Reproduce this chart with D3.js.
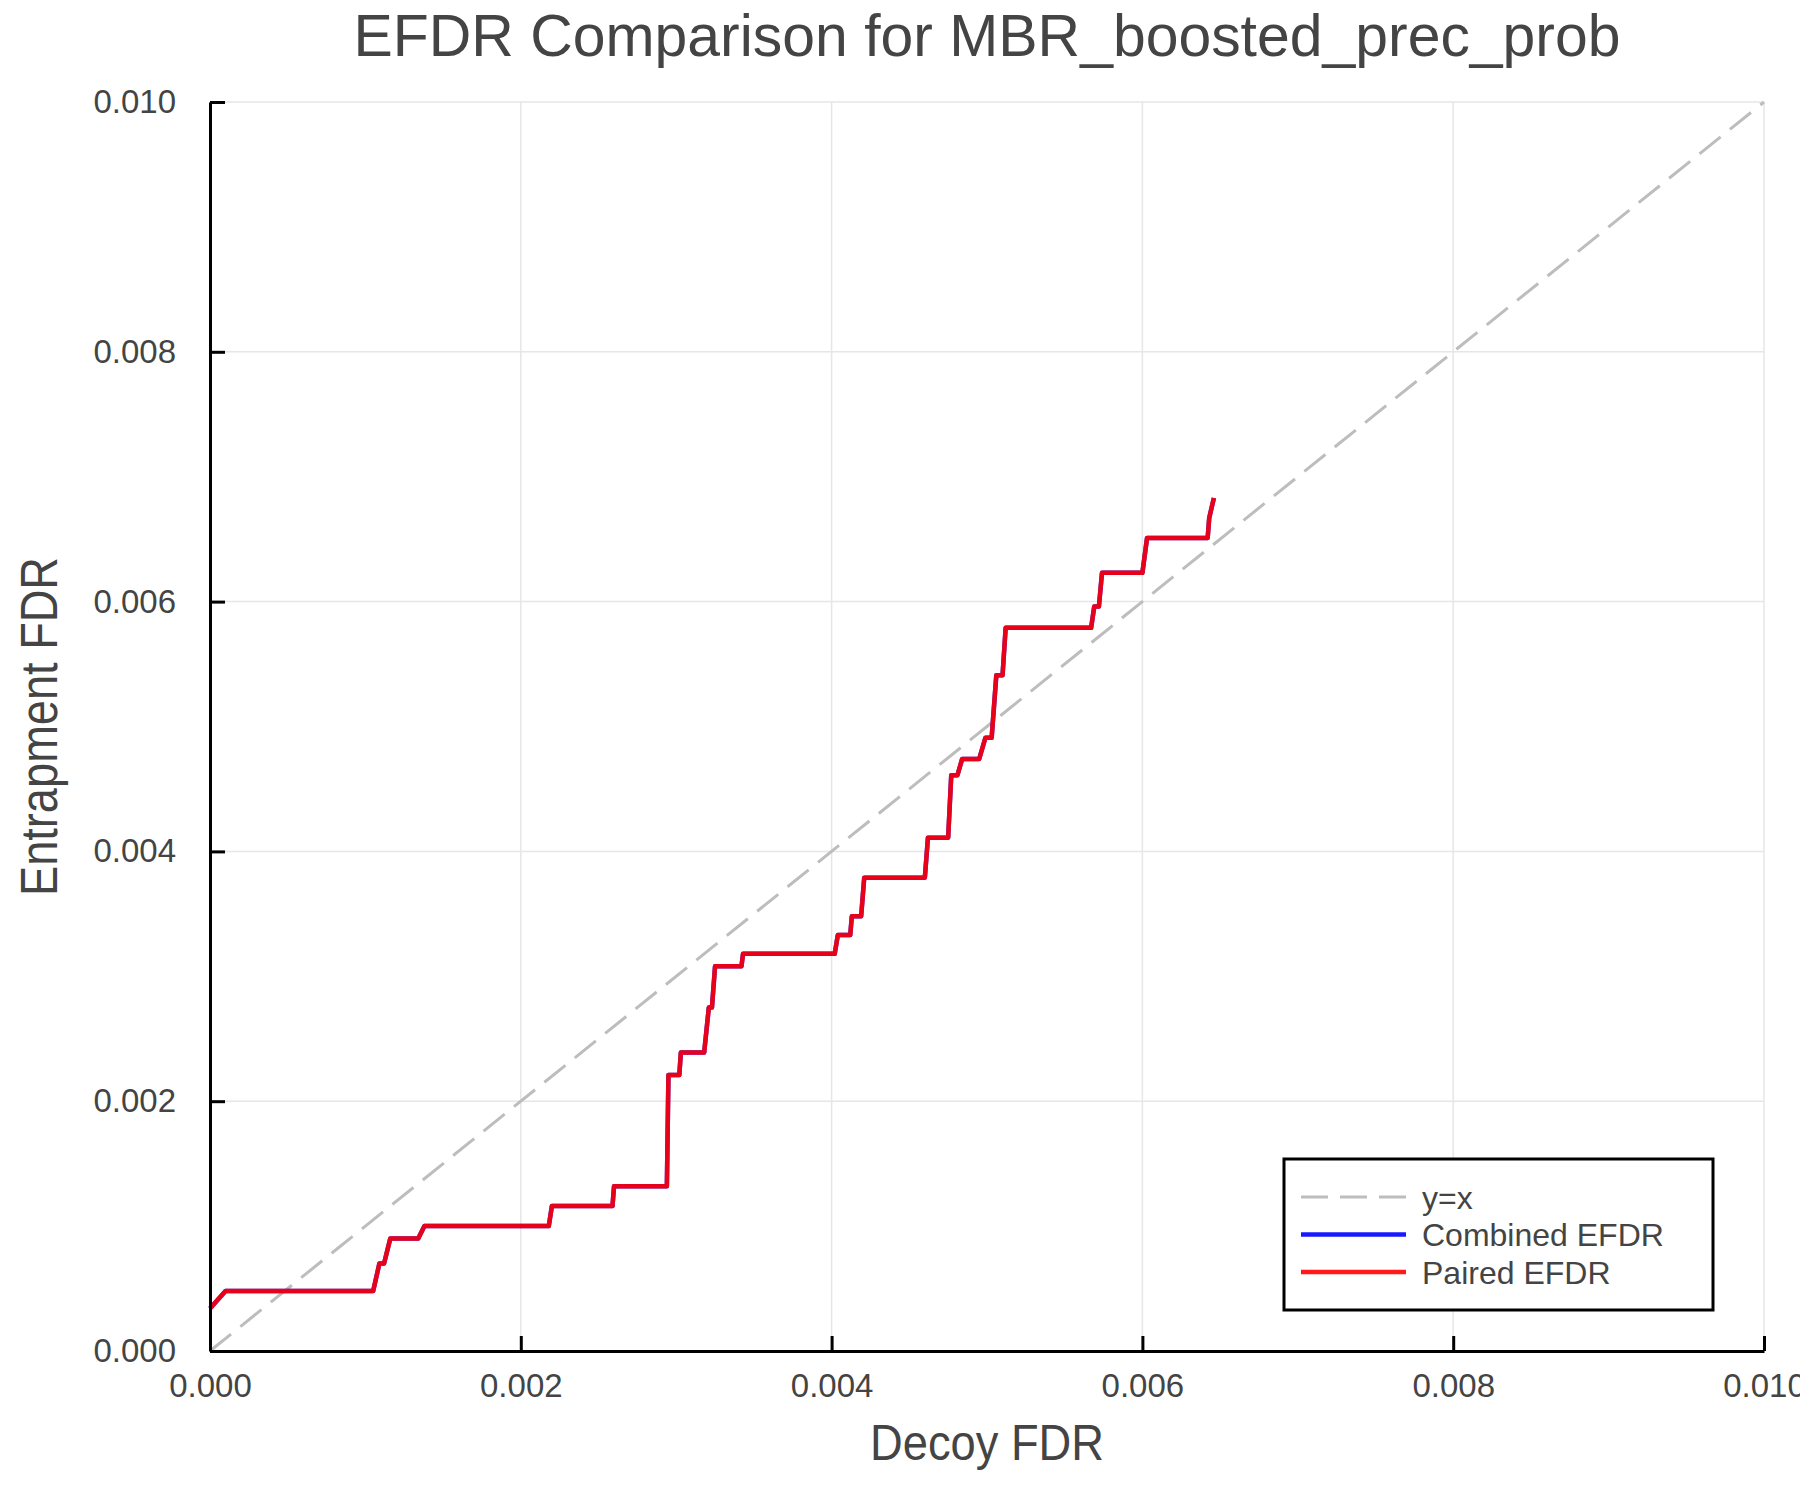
<!DOCTYPE html>
<html>
<head>
<meta charset="utf-8">
<script src="https://cdn.jsdelivr.net/npm/d3@7"></script>
<style>
  body { margin: 0; background: #fff; }
  text { font-family: "Liberation Sans", Arial, Helvetica, sans-serif; fill: #444; }
</style>
</head>
<body>
<div id="chart"></div>
<script>

// data
var decoyFdr = [0.00000, 0.00010, 0.00105, 0.00109, 0.00112, 0.00116, 0.00134, 0.00138, 0.00218, 0.00220,
                0.00259, 0.00260, 0.00294, 0.00295, 0.00302, 0.00303, 0.00318, 0.00321, 0.00323, 0.00325,
                0.00342, 0.00343, 0.00402, 0.00404, 0.00412, 0.00413, 0.00419, 0.00421, 0.00460, 0.00462,
                0.00475, 0.00477, 0.00481, 0.00484, 0.00495, 0.00499, 0.00503, 0.00506, 0.00510, 0.00512,
                0.00567, 0.00569, 0.00572, 0.00574, 0.00600, 0.00603, 0.00642, 0.00643, 0.00646];

var combinedEfdr = [0.00034, 0.00048, 0.00048, 0.00070, 0.00070, 0.00090, 0.00090, 0.00100, 0.00100, 0.00116,
                    0.00116, 0.00132, 0.00132, 0.00221, 0.00221, 0.00239, 0.00239, 0.00275, 0.00275, 0.00308,
                    0.00308, 0.00318, 0.00318, 0.00333, 0.00333, 0.00348, 0.00348, 0.00379, 0.00379, 0.00411,
                    0.00411, 0.00461, 0.00461, 0.00474, 0.00474, 0.00491, 0.00491, 0.00541, 0.00541, 0.00579,
                    0.00579, 0.00596, 0.00596, 0.00623, 0.00623, 0.00651, 0.00651, 0.00667, 0.00683];

var pairedEfdr = [0.00034, 0.00048, 0.00048, 0.00070, 0.00070, 0.00090, 0.00090, 0.00100, 0.00100, 0.00116,
                  0.00116, 0.00132, 0.00132, 0.00221, 0.00221, 0.00239, 0.00239, 0.00275, 0.00275, 0.00308,
                  0.00308, 0.00318, 0.00318, 0.00333, 0.00333, 0.00348, 0.00348, 0.00379, 0.00379, 0.00411,
                  0.00411, 0.00461, 0.00461, 0.00474, 0.00474, 0.00491, 0.00491, 0.00541, 0.00541, 0.00579,
                  0.00579, 0.00596, 0.00596, 0.00623, 0.00623, 0.00651, 0.00651, 0.00667, 0.00683];

var diagonal = [0, 0.010];
var xTicks = [0, 0.002, 0.004, 0.006, 0.008, 0.010];
var yTicks = [0, 0.002, 0.004, 0.006, 0.008, 0.010];
var legendLabels = ["y=x", "Combined EFDR", "Paired EFDR"];


var width  = 1800;
var height = 1500;
var plotLeft = 210, plotRight = 1764, plotTop = 102, plotBottom = 1351;

var svg = d3.select("#chart").append("svg")
    .attr("width", width)
    .attr("height", height);

var x = d3.scaleLinear().domain([0, 0.010]).range([plotLeft, plotRight]);
var y = d3.scaleLinear().domain([0, 0.010]).range([plotBottom, plotTop]);

// grid
svg.append("g").selectAll("line").data(xTicks).enter().append("line")
    .attr("x1", d => x(d)).attr("x2", d => x(d))
    .attr("y1", plotTop).attr("y2", plotBottom)
    .attr("stroke", "#e6e6e6").attr("stroke-width", 1.5);

svg.append("g").selectAll("line").data(yTicks).enter().append("line")
    .attr("x1", plotLeft).attr("x2", plotRight)
    .attr("y1", d => y(d)).attr("y2", d => y(d))
    .attr("stroke", "#e6e6e6").attr("stroke-width", 1.5);

// y = x
svg.append("line")
    .attr("x1", x(diagonal[0])).attr("y1", y(diagonal[0]))
    .attr("x2", x(diagonal[1])).attr("y2", y(diagonal[1]))
    .attr("stroke", "#bdbdbd")
    .attr("stroke-width", 3)
    .attr("stroke-dasharray", "27 12");

var line = d3.line()
    .x(d => x(d[0]))
    .y(d => y(d[1]));

svg.append("path")
    .datum(decoyFdr.map((d, i) => [d, combinedEfdr[i]]))
    .attr("d", line)
    .attr("fill", "none")
    .attr("stroke", "rgba(0,0,255,0.9)")
    .attr("stroke-width", 4.5)
    .attr("stroke-linejoin", "round");

svg.append("path")
    .datum(decoyFdr.map((d, i) => [d, pairedEfdr[i]]))
    .attr("d", line)
    .attr("fill", "none")
    .attr("stroke", "rgba(255,0,0,0.9)")
    .attr("stroke-width", 4.5)
    .attr("stroke-linejoin", "round");

// axes
var xAxis = svg.append("g")
    .attr("transform", "translate(0," + plotBottom + ")")
    .call(d3.axisBottom(x).tickValues(xTicks).tickFormat(d3.format(".3f"))
        .tickSizeInner(-15).tickSizeOuter(0).tickPadding(23));

var yAxis = svg.append("g")
    .attr("transform", "translate(" + plotLeft + ",0)")
    .call(d3.axisLeft(y).tickValues(yTicks).tickFormat(d3.format(".3f"))
        .tickSizeInner(-15).tickSizeOuter(0).tickPadding(34));

[xAxis, yAxis].forEach(function (g) {
    g.select(".domain").attr("stroke", "#000").attr("stroke-width", 3);
    g.selectAll(".tick line").attr("stroke", "#000").attr("stroke-width", 3);
    g.selectAll(".tick text")
        .attr("fill", "#444")
        .style("font-size", "33px")
        .style("font-family", "'Liberation Sans', Arial, sans-serif");
});

// title and labels
svg.append("text")
    .attr("x", (plotLeft + plotRight) / 2)
    .attr("y", 56)
    .attr("text-anchor", "middle")
    .attr("textLength", 1267)
    .attr("lengthAdjust", "spacingAndGlyphs")
    .style("font-size", "60px")
    .text("EFDR Comparison for MBR_boosted_prec_prob");

svg.append("text")
    .attr("x", (plotLeft + plotRight) / 2)
    .attr("y", 1460)
    .attr("text-anchor", "middle")
    .attr("textLength", 234)
    .attr("lengthAdjust", "spacingAndGlyphs")
    .style("font-size", "50px")
    .text("Decoy FDR");

svg.append("text")
    .attr("transform", "translate(57," + ((plotTop + plotBottom) / 2) + ") rotate(-90)")
    .attr("text-anchor", "middle")
    .attr("textLength", 339)
    .attr("lengthAdjust", "spacingAndGlyphs")
    .style("font-size", "51px")
    .text("Entrapment FDR");

// legend
var legend = svg.append("g");

legend.append("rect")
    .attr("x", 1284).attr("y", 1159)
    .attr("width", 429).attr("height", 151)
    .attr("fill", "#fff")
    .attr("stroke", "#000")
    .attr("stroke-width", 3);

var legendStroke = ["#bdbdbd", "rgba(0,0,255,0.9)", "rgba(255,0,0,0.9)"];
var legendDash   = ["27 12", null, null];

var rows = legend.selectAll("g.row").data(legendLabels).enter().append("g")
    .attr("class", "row")
    .attr("transform", (d, i) => "translate(0," + (1197 + i * 37.5) + ")");

rows.append("line")
    .attr("x1", 1301).attr("x2", 1406)
    .attr("y1", 0).attr("y2", 0)
    .attr("stroke", (d, i) => legendStroke[i])
    .attr("stroke-width", (d, i) => i === 0 ? 3 : 4.5)
    .attr("stroke-dasharray", (d, i) => legendDash[i]);

rows.append("text")
    .attr("x", 1422)
    .attr("y", 11.5)
    .style("font-size", "32px")
    .text(d => d);

</script>
</body>
</html>
